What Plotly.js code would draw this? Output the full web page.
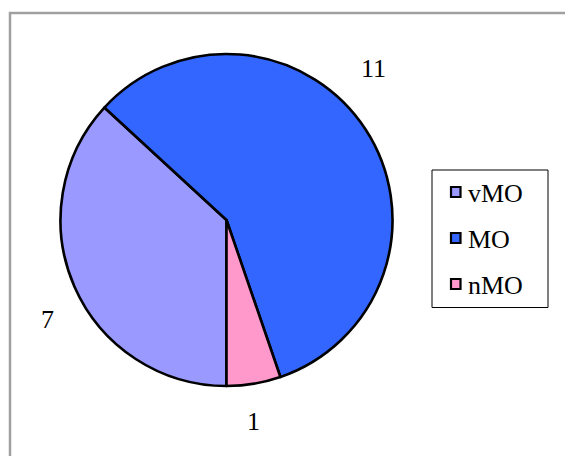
<!DOCTYPE html>
<html>
<head>
<meta charset="utf-8">
<script src="https://cdn.plot.ly/plotly-3.0.1.min.js"></script>
<style>html,body{margin:0;padding:0;background:#fff;}#chart{width:565px;height:456px;}</style>
</head>
<body>
<div id="chart"></div>
<script>
// Data
const categories = ["vMO", "MO", "nMO"];
const values = [7, 11, 1];
const colors = ["#9999FF", "#3366FF", "#FF99CC"];

const W = 565, H = 456;
const px = x => x / W;
const py = y => 1 - y / H;

const font = {family: "Liberation Serif, Times New Roman, serif", size: 26, color: "#000"};

// Data labels (text from values), placed like the reference
const labelSpots = [[47, 318], [373, 68], [253, 420]];
const annotations = values.map((v, i) => ({
  x: px(labelSpots[i][0]), y: py(labelSpots[i][1] + 1), xref: "paper", yref: "paper",
  text: String(v), showarrow: false, xanchor: "center", yanchor: "middle", font: font
}));

// Manual legend
const shapes = [
  // outer chart border (top and left visible)
  {type: "rect", xref: "paper", yref: "paper", x0: px(10), x1: px(600), y0: py(13), y1: py(500),
   line: {color: "#a0a0a0", width: 2.5}, fillcolor: "rgba(0,0,0,0)", layer: "below"},
  // legend box
  {type: "rect", xref: "paper", yref: "paper", x0: px(432), x1: px(548), y0: py(170), y1: py(307.5),
   line: {color: "#000", width: 1}, fillcolor: "#fff"}
];
categories.forEach((c, i) => {
  const yc = 192 + i * 46;
  shapes.push({type: "rect", xref: "paper", yref: "paper",
    x0: px(451), x1: px(460.5), y0: py(yc - 5), y1: py(yc + 5),
    line: {color: "#000", width: 2.2}, fillcolor: colors[i]});
  annotations.push({x: px(466), y: py(yc + 1), xref: "paper", yref: "paper", text: c,
    showarrow: false, xanchor: "left", yanchor: "middle", font: font});
});

const trace = {
  type: "pie",
  labels: categories,
  values: values,
  marker: {colors: colors, line: {color: "#000", width: 2.6}},
  sort: false,
  direction: "clockwise",
  rotation: 180,
  textinfo: "none",
  hoverinfo: "none",
  showlegend: false,
  domain: {x: [px(60.5), px(392.5)], y: [py(386), py(54)]}
};

const layout = {
  width: W, height: H,
  margin: {l: 0, r: 0, t: 0, b: 0},
  paper_bgcolor: "#fff",
  showlegend: false,
  shapes: shapes,
  annotations: annotations
};

Plotly.newPlot("chart", [trace], layout, {displayModeBar: false, staticPlot: true});
</script>
</body>
</html>
